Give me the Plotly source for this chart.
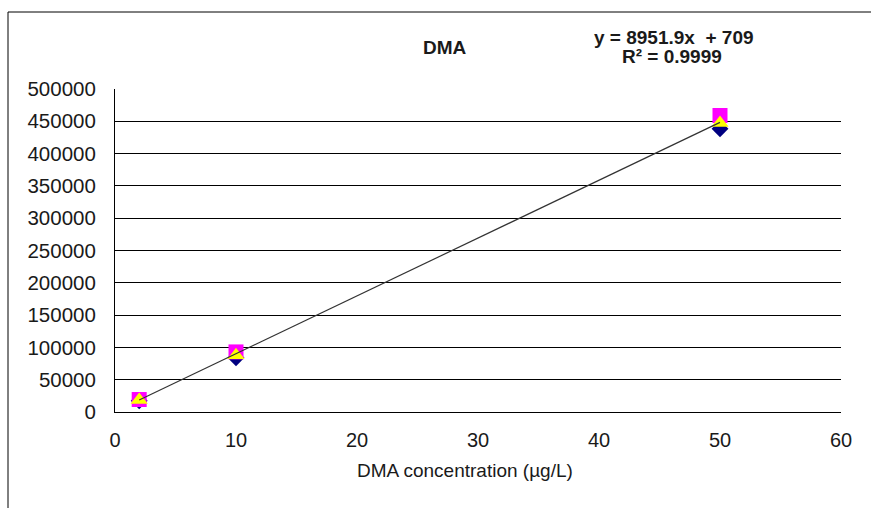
import plotly.graph_objects as go

# Calibration data for DMA: three replicate series at each standard level
conc = [2, 10, 50]
series_diamond = [17500, 84000, 438500]
series_square = [19300, 93000, 459000]
series_triangle = [18600, 88000, 447500]

# Linear fit reported for the calibration
slope = 8951.9
intercept = 709
r_squared = 0.9999
fit_x = [2, 50]
fit_y = [slope * x + intercept for x in fit_x]

y_ticks = list(range(0, 500001, 50000))
y_tick_labels = [str(v) for v in y_ticks]
x_ticks = list(range(0, 61, 10))

FONT = "Liberation Sans, Arial, sans-serif"
TXT = "#1a1a1a"

W, H = 871, 508
L, R, T, B = 115, 30, 89, 96
pw, ph = W - L - R, H - T - B


def px_x(px):
    return (px - L) / pw


def px_y(py):
    return 1 + (T - py) / ph


fig = go.Figure()
fig.add_trace(go.Scatter(x=conc, y=series_diamond, mode="markers",
                         marker=dict(symbol="diamond", size=13, color="#000080"),
                         showlegend=False))
fig.add_trace(go.Scatter(x=conc, y=series_square, mode="markers",
                         marker=dict(symbol="square", size=15, color="#FF00FF"),
                         showlegend=False))
fig.add_trace(go.Scatter(x=conc, y=series_triangle, mode="markers",
                         marker=dict(symbol="triangle-up", size=15, color="#FFFF00"),
                         showlegend=False))
fig.add_trace(go.Scatter(x=fit_x, y=fit_y, mode="lines",
                         line=dict(color="#333333", width=1.2),
                         showlegend=False))

# Outer chart frame (left and top edges visible)
fig.add_shape(type="line", xref="paper", yref="paper", x0=px_x(8), x1=px_x(8),
              y0=-1, y1=px_y(12), line=dict(color="black", width=1))
fig.add_shape(type="line", xref="paper", yref="paper", x0=px_x(8), x1=2,
              y0=px_y(12), y1=px_y(12), line=dict(color="black", width=1))

fig.add_annotation(text="<b>DMA</b>", xref="paper", yref="paper",
                   x=px_x(445), y=px_y(47), showarrow=False,
                   xanchor="center", yanchor="middle",
                   font=dict(family=FONT, size=19, color=TXT))
fig.add_annotation(text=f"<b>y = {slope}x  + {intercept}</b>",
                   xref="paper", yref="paper",
                   x=px_x(674), y=px_y(38), showarrow=False,
                   xanchor="center", yanchor="middle",
                   font=dict(family=FONT, size=19, color=TXT))
fig.add_annotation(text=f"<b>R² = {r_squared}</b>",
                   xref="paper", yref="paper",
                   x=px_x(672), y=px_y(57), showarrow=False,
                   xanchor="center", yanchor="middle",
                   font=dict(family=FONT, size=19, color=TXT))
fig.add_annotation(text="DMA concentration (µg/L)",
                   xref="paper", yref="paper",
                   x=px_x(465), y=px_y(470), showarrow=False,
                   xanchor="center", yanchor="middle",
                   font=dict(family=FONT, size=19, color=TXT))

fig.update_layout(
    width=W, height=H,
    margin=dict(l=L, r=R, t=T, b=B),
    paper_bgcolor="white", plot_bgcolor="white",
    font=dict(family=FONT, size=19, color=TXT),
    xaxis=dict(range=[0, 60], tickvals=x_ticks, showgrid=False, zeroline=False,
               showline=True, linecolor="black", linewidth=1,
               ticks="outside", ticklen=0, ticklabelstandoff=10,
               tickfont=dict(size=20)),
    yaxis=dict(range=[0, 500000], tickvals=y_ticks, ticktext=y_tick_labels,
               showgrid=True, gridcolor="black", gridwidth=1, zeroline=False,
               showline=True, linecolor="black", linewidth=1,
               ticks="outside", ticklen=0, ticklabelstandoff=14,
               tickfont=dict(size=20.5)),
)

fig.write_html("out.html")
